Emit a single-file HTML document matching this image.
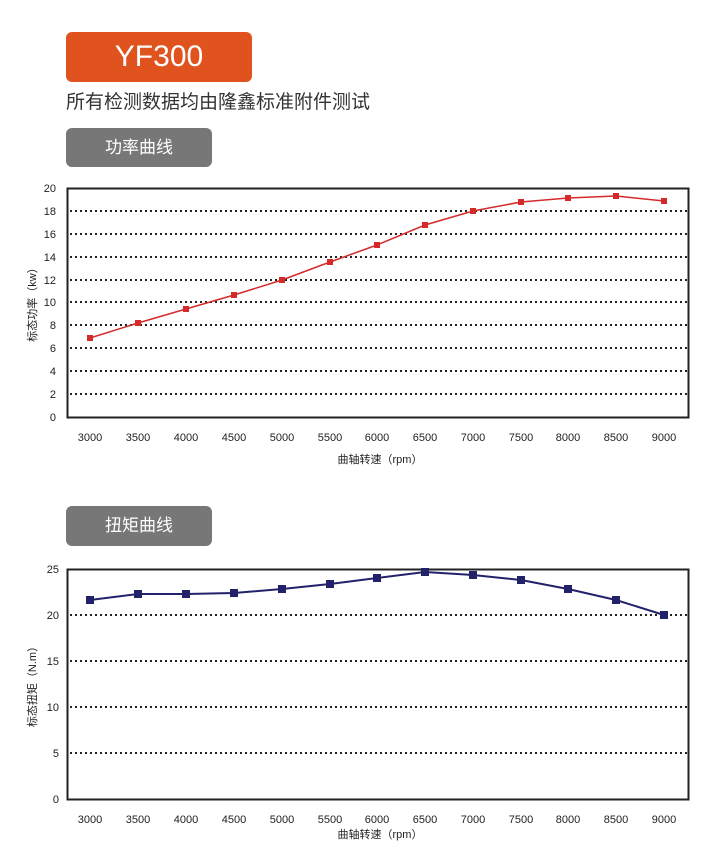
<!DOCTYPE html><html><head><meta charset="utf-8"><style>
body{margin:0;background:#fff;width:720px;height:855px;overflow:hidden;font-family:"Liberation Sans","Noto Sans CJK SC",sans-serif}
.b{position:absolute;color:#fff;text-align:center;border-radius:6px}
</style></head><body>
<div class="b" style="left:66px;top:32px;width:186px;height:50px;background:#e0531f;font-size:30px;line-height:50px">YF300</div>
<div style="position:absolute;left:66px;top:87px;font-size:19px;color:#333">所有检测数据均由隆鑫标准附件测试</div>
<div class="b" style="left:66px;top:128px;width:146px;height:39px;background:#777;font-size:17px;line-height:39px">功率曲线</div>
<div class="b" style="left:66px;top:506px;width:146px;height:40px;background:#777;font-size:17px;line-height:40px">扭矩曲线</div>
<svg width="720" height="855" style="position:absolute;left:0;top:0" font-family="Liberation Sans, Noto Sans CJK SC, sans-serif" font-size="11" fill="#222">
<g stroke="#222" stroke-width="2" stroke-dasharray="2,3">
<line x1="70" x2="688" y1="211" y2="211"/><line x1="70" x2="688" y1="234" y2="234"/><line x1="70" x2="688" y1="257" y2="257"/><line x1="70" x2="688" y1="280" y2="280"/><line x1="70" x2="688" y1="302" y2="302"/><line x1="70" x2="688" y1="325" y2="325"/><line x1="70" x2="688" y1="348" y2="348"/><line x1="70" x2="688" y1="371" y2="371"/><line x1="70" x2="688" y1="394" y2="394"/>
<line x1="70" x2="688" y1="615" y2="615"/><line x1="70" x2="688" y1="661" y2="661"/><line x1="70" x2="688" y1="707" y2="707"/><line x1="70" x2="688" y1="753" y2="753"/>
</g>
<rect x="67.5" y="188.5" width="621" height="229" fill="none" stroke="#222" stroke-width="2"/>
<rect x="67.5" y="569.5" width="621" height="230" fill="none" stroke="#222" stroke-width="2"/>
<g text-anchor="end">
<text x="56" y="192">20</text><text x="56" y="215">18</text><text x="56" y="238">16</text><text x="56" y="261">14</text><text x="56" y="284">12</text><text x="56" y="306">10</text><text x="56" y="329">8</text><text x="56" y="352">6</text><text x="56" y="375">4</text><text x="56" y="398">2</text><text x="56" y="421">0</text>
<text x="59" y="573">25</text><text x="59" y="619">20</text><text x="59" y="665">15</text><text x="59" y="711">10</text><text x="59" y="757">5</text><text x="59" y="803">0</text>
</g>
<g text-anchor="middle">
<g id="xl"><text x="90" y="441">3000</text><text x="138" y="441">3500</text><text x="186" y="441">4000</text><text x="234" y="441">4500</text><text x="282" y="441">5000</text><text x="330" y="441">5500</text><text x="377" y="441">6000</text><text x="425" y="441">6500</text><text x="473" y="441">7000</text><text x="521" y="441">7500</text><text x="568" y="441">8000</text><text x="616" y="441">8500</text><text x="664" y="441">9000</text></g>
<use href="#xl" y="382"/>
<text x="380" y="463">曲轴转速（rpm）</text>
<text x="380" y="838">曲轴转速（rpm）</text>
<text transform="translate(36,302) rotate(-90)">标态功率（kw）</text>
<text transform="translate(36,684) rotate(-90)">标态扭矩（N.m）</text>
</g>
<polyline fill="none" stroke="#d42a2a" stroke-width="1.5" points="90,338 138,323 186,309 234,295 282,280 330,262 377,245 425,225 473,211 521,202 568,198 616,196 664,201"/>
<g fill="#d42a2a"><rect x="87" y="335" width="6" height="6"/><rect x="135" y="320" width="6" height="6"/><rect x="183" y="306" width="6" height="6"/><rect x="231" y="292" width="6" height="6"/><rect x="279" y="277" width="6" height="6"/><rect x="327" y="259" width="6" height="6"/><rect x="374" y="242" width="6" height="6"/><rect x="422" y="222" width="6" height="6"/><rect x="470" y="208" width="6" height="6"/><rect x="518" y="199" width="6" height="6"/><rect x="565" y="195" width="6" height="6"/><rect x="613" y="193" width="6" height="6"/><rect x="661" y="198" width="6" height="6"/></g>
<polyline fill="none" stroke="#22226a" stroke-width="2" points="90,600 138,594 186,594 234,593 282,589 330,584 377,578 425,572 473,575 521,580 568,589 616,600 664,615"/>
<g fill="#22226a"><rect x="86" y="596" width="8" height="8"/><rect x="134" y="590" width="8" height="8"/><rect x="182" y="590" width="8" height="8"/><rect x="230" y="589" width="8" height="8"/><rect x="278" y="585" width="8" height="8"/><rect x="326" y="580" width="8" height="8"/><rect x="373" y="574" width="8" height="8"/><rect x="421" y="568" width="8" height="8"/><rect x="469" y="571" width="8" height="8"/><rect x="517" y="576" width="8" height="8"/><rect x="564" y="585" width="8" height="8"/><rect x="612" y="596" width="8" height="8"/><rect x="660" y="611" width="8" height="8"/></g>
</svg>
</body></html>
